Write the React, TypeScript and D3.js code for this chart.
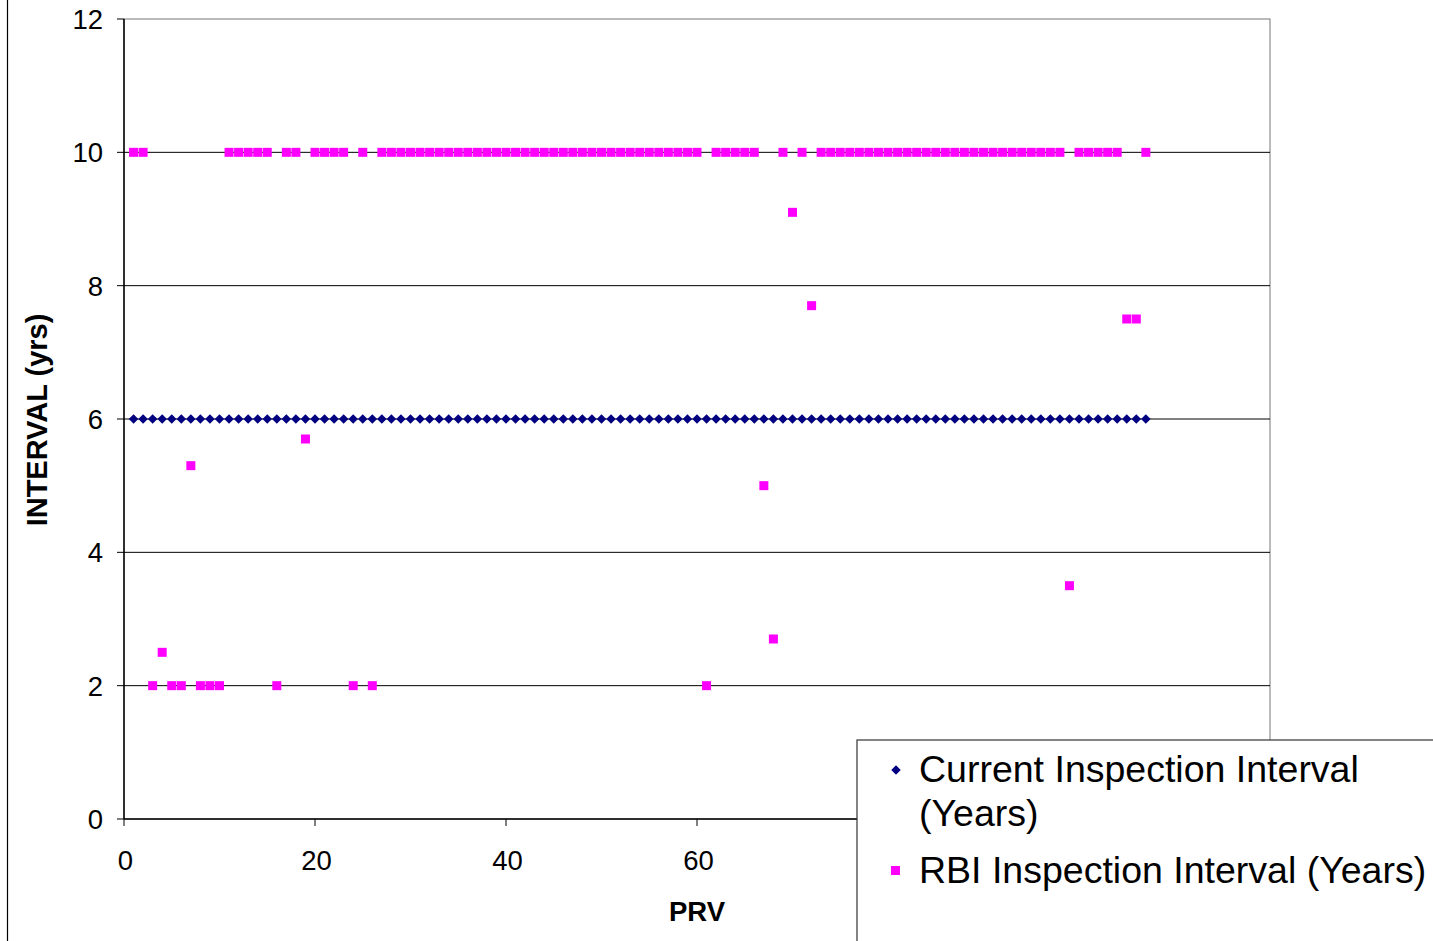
import React from "react";
import * as d3 from "d3";

const rbiInterval: number[] = [
  10, 10, 2, 2.5, 2, 2, 5.3, 2, 2, 2,
  10, 10, 10, 10, 10, 2, 10, 10, 5.7, 10,
  10, 10, 10, 2, 10, 2, 10, 10, 10, 10,
  10, 10, 10, 10, 10, 10, 10, 10, 10, 10,
  10, 10, 10, 10, 10, 10, 10, 10, 10, 10,
  10, 10, 10, 10, 10, 10, 10, 10, 10, 10,
  2, 10, 10, 10, 10, 10, 5, 2.7, 10, 9.1,
  10, 7.7, 10, 10, 10, 10, 10, 10, 10, 10,
  10, 10, 10, 10, 10, 10, 10, 10, 10, 10,
  10, 10, 10, 10, 10, 10, 10, 10, 3.5, 10,
  10, 10, 10, 10, 7.5, 7.5, 10,
];

const currentInterval: number[] = [
  6, 6, 6, 6, 6, 6, 6, 6, 6, 6,
  6, 6, 6, 6, 6, 6, 6, 6, 6, 6,
  6, 6, 6, 6, 6, 6, 6, 6, 6, 6,
  6, 6, 6, 6, 6, 6, 6, 6, 6, 6,
  6, 6, 6, 6, 6, 6, 6, 6, 6, 6,
  6, 6, 6, 6, 6, 6, 6, 6, 6, 6,
  6, 6, 6, 6, 6, 6, 6, 6, 6, 6,
  6, 6, 6, 6, 6, 6, 6, 6, 6, 6,
  6, 6, 6, 6, 6, 6, 6, 6, 6, 6,
  6, 6, 6, 6, 6, 6, 6, 6, 6, 6,
  6, 6, 6, 6, 6, 6, 6,
];

const xTicks = [0, 20, 40, 60, 80, 100, 120];
// labels for 80, 100, 120 are hidden behind the legend in the reference
const xTickLabels = [0, 20, 40, 60];
const yTicks = [0, 2, 4, 6, 8, 10, 12];
const seriesNames = ["Current Inspection Interval", "(Years)", "RBI Inspection Interval (Years)"];

const W = 1433;
const H = 941;
const FONT = "'Liberation Sans', Arial, sans-serif";

export default function App() {
  const x = d3.scaleLinear().domain([0, 120]).range([124, 1270]);
  const y = d3.scaleLinear().domain([0, 12]).range([819, 19]);
  const diamond = d3.symbol().type(d3.symbolDiamond2).size(58)();

  return (
    <svg
      width={W}
      height={H}
      style={{ position: "absolute", left: 0, top: 0, background: "#fff" }}
      fontFamily={FONT}
    >
      <rect x={0} y={0} width={W} height={H} fill="#fff" />
      <line x1={7.5} x2={7.5} y1={0} y2={H} stroke="#000" strokeWidth={1.2} />

      {/* plot area border */}
      <rect x={x(0)} y={y(12)} width={x(120) - x(0)} height={y(0) - y(12)} fill="none" stroke="#777" strokeWidth={1} />

      {/* gridlines */}
      {yTicks.filter((t) => t > 0 && t < 12).map((t) => (
        <line key={"g" + t} x1={x(0)} x2={x(120)} y1={y(t)} y2={y(t)} stroke="#000" strokeWidth={1} />
      ))}

      {/* axes */}
      <line x1={x(0)} x2={x(0)} y1={y(12)} y2={y(0)} stroke="#000" strokeWidth={1.5} />
      <line x1={x(0)} x2={x(120)} y1={y(0)} y2={y(0)} stroke="#000" strokeWidth={1.5} />
      {yTicks.map((t) => (
        <g key={"yt" + t}>
          <line x1={x(0) - 7} x2={x(0)} y1={y(t)} y2={y(t)} stroke="#000" strokeWidth={1} />
          <text x={103} y={y(t)} dy="0.36em" textAnchor="end" fontSize={27.5}>{t}</text>
        </g>
      ))}
      {xTicks.map((t) => (
        <line key={"xt" + t} x1={x(t)} x2={x(t)} y1={y(0)} y2={y(0) + 7} stroke="#000" strokeWidth={1} />
      ))}
      {xTickLabels.map((t) => (
        <text key={"xl" + t} x={x(t) + 1.5} y={870} textAnchor="middle" fontSize={27.5}>{t}</text>
      ))}

      {/* axis titles */}
      <text
        transform={`translate(47,${y(6) + 1}) rotate(-90)`}
        textAnchor="middle"
        fontSize={29}
        fontWeight="bold"
      >
        INTERVAL (yrs)
      </text>
      <text x={697} y={921} textAnchor="middle" fontSize={27.5} fontWeight="bold">PRV</text>

      {/* current series */}
      {currentInterval.map((v, i) => (
        <path key={"c" + i} d={diamond!} transform={`translate(${x(i + 1)},${y(v)})`} fill="#000080" />
      ))}

      {/* RBI series */}
      {rbiInterval.map((v, i) => (
        <rect key={"r" + i} x={x(i + 1) - 4.5} y={y(v) - 4.5} width={9} height={9} fill="#FF00FF" />
      ))}

      {/* legend */}
      <rect x={857} y={740} width={W - 857 + 10} height={H - 740 + 10} fill="#fff" stroke="#333" strokeWidth={1.2} />
      <path d={diamond!} transform="translate(896,770)" fill="#000080" />
      <text x={919} y={782} fontSize={37.5}>{seriesNames[0]}</text>
      <text x={919} y={826} fontSize={37.5}>{seriesNames[1]}</text>
      <rect x={891} y={866} width={9} height={9} fill="#FF00FF" />
      <text x={919} y={883} fontSize={37.5}>{seriesNames[2]}</text>
    </svg>
  );
}
